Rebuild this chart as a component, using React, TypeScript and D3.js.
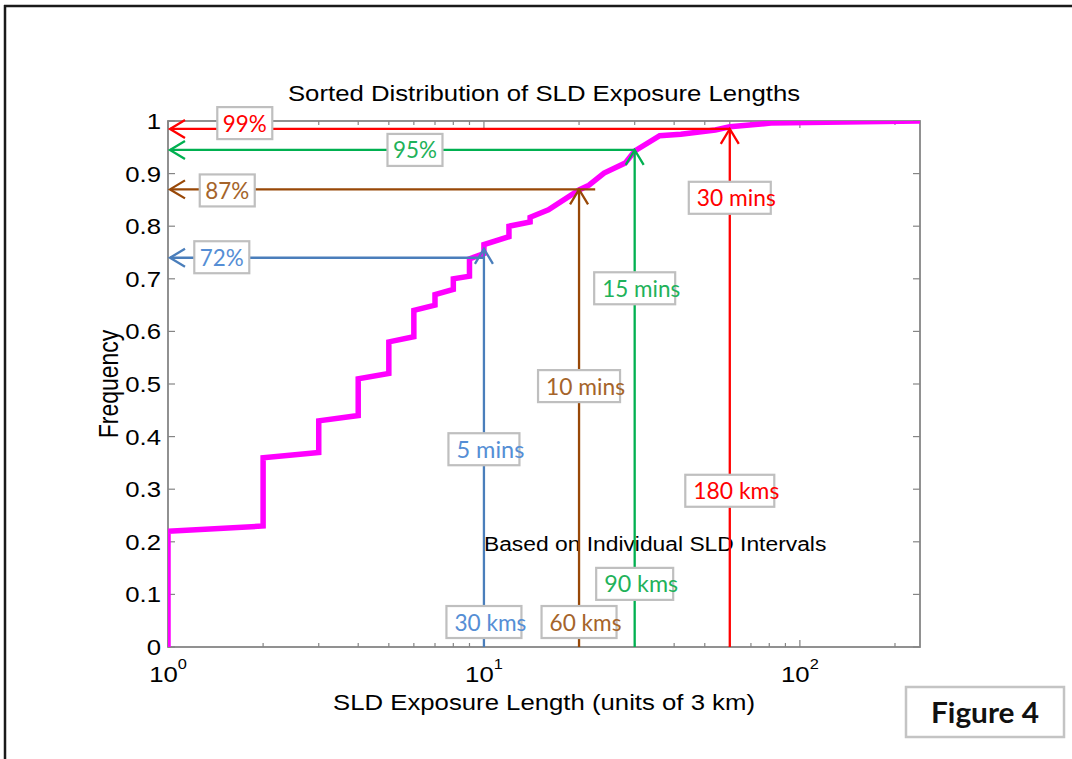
import * as d3 from "d3";

// sorted exposure lengths (units of 3 km) and cumulative frequency
const lengths = [1, 1, 2, 2, 3, 3, 4, 4, 5, 5, 6, 6, 7, 7, 8, 8, 9, 9, 10, 10, 12, 12, 14, 14, 16, 20, 21.5, 24, 28, 30, 36, 42, 54, 60, 81, 240];
const freqs = [0, 0.22, 0.23, 0.36, 0.37, 0.43, 0.44, 0.51, 0.52, 0.58, 0.59, 0.64, 0.65, 0.67, 0.68, 0.7, 0.705, 0.738, 0.748, 0.765, 0.78, 0.8, 0.808, 0.817, 0.831, 0.869, 0.878, 0.901, 0.92, 0.943, 0.972, 0.975, 0.983, 0.989, 0.996, 1.0];

// guide lines drawn on top of the plot
const guideLengths = [10, 20, 30, 60];
const guideLevels = [0.74, 0.87, 0.945, 0.985];
const guideTips = [0.757, 0.87, 0.945, 0.985];
const guideEnds = [10, 22.5, 30, 60];
const pctLabels = ["72%", "87%", "95%", "99%"];
const minsLabels = ["5 mins", "10 mins", "15 mins", "30 mins"];
const kmsLabels = ["30 kms", "60 kms", "90 kms", "180 kms"];

// label anchors in data units
const pctAt = [[1.48, 0.741], [1.54, 0.868], [6.05, 0.945], [1.75, 0.996]];
const minsAt = [0.376, 0.496, 0.682, 0.854];
const kmsAt = [0.0475, 0.0475, 0.12, 0.297];
const minsLen = [68, 79, 78, 79];
const kmsLen = [72, 72, 74, 86];

const lineColors = ["#4a7ebb", "#984807", "#00b050", "#ff0000"];
const textColors = ["#558ed5", "#a5642a", "#1fb25a", "#ff0000"];

const W = 1072;
const H = 759;
const margin = { top: 121, right: W - 920, bottom: H - 647, left: 168 };
const SX = 1.17; // the source picture is stretched sideways
const axisFont = "'Liberation Sans', Arial, sans-serif";
const boxFont = "Lato, 'Open Sans', sans-serif";

export default function App() {
  const x = d3.scaleLog().domain([1, 240]).range([margin.left, W - margin.right]);
  const y = d3.scaleLinear().domain([0, 1]).range([H - margin.bottom, margin.top]);
  const x0 = x.range()[0], x1 = x.range()[1];
  const y0 = y.range()[0], y1 = y.range()[1];

  const pts: [number, number][] = lengths.map((l, i) => [l, freqs[i]]);
  const line = d3.line<[number, number]>().x(d => x(d[0])).y(d => y(d[1]));

  const xTicks = x.ticks();
  const yTicks = y.ticks(10);
  const isMajor = (v: number) => Math.abs(Math.log10(v) - Math.round(Math.log10(v))) < 1e-9;

  const axisColor = "#858585";
  const boxStroke = "#bfbfbf";

  const stretched = (tx: number, ty: number, extra = "") => `translate(${tx},${ty}) scale(${SX},1)${extra}`;

  return (
    <svg width={W} height={H} style={{ position: "absolute", left: 0, top: 0, background: "#fff" }}>
      <defs>
        <clipPath id="plot-clip">
          <rect x={x0} y={y1} width={x1 - x0} height={y0 - y1} />
        </clipPath>
      </defs>

      {/* outer frame */}
      <line x1={5} x2={5} y1={5} y2={H} stroke="#1a1a1a" strokeWidth={2.5} />
      <line x1={4} x2={W} y1={6} y2={6} stroke="#1a1a1a" strokeWidth={2.5} />

      {/* title */}
      <text transform={stretched((x0 + x1) / 2, 101)} textAnchor="middle" fontFamily={axisFont} fontSize={22}>
        Sorted Distribution of SLD Exposure Lengths
      </text>

      {/* axes box */}
      <rect x={x0} y={y1} width={x1 - x0} height={y0 - y1} fill="none" stroke={axisColor} strokeWidth={1.8} />

      {/* x ticks top and bottom */}
      {xTicks.map(v => {
        const len = isMajor(v) ? 7 : 4;
        return (
          <g key={"xt" + v}>
            <line x1={x(v)} x2={x(v)} y1={y0} y2={y0 - len} stroke={axisColor} strokeWidth={1.2} />
            <line x1={x(v)} x2={x(v)} y1={y1} y2={y1 + len} stroke={axisColor} strokeWidth={1.2} />
          </g>
        );
      })}
      {xTicks.filter(isMajor).map(v => (
        <text key={"xl" + v} transform={stretched(x(v), 682)} textAnchor="middle" fontFamily={axisFont} fontSize={22}>
          <tspan>10</tspan>
          <tspan dy={-13} fontSize={14}>{Math.round(Math.log10(v))}</tspan>
        </text>
      ))}

      {/* y ticks left and right */}
      {yTicks.map(v => (
        <g key={"yt" + v}>
          <line x1={x0} x2={x0 + 7} y1={y(v)} y2={y(v)} stroke={axisColor} strokeWidth={1.2} />
          <line x1={x1} x2={x1 - 7} y1={y(v)} y2={y(v)} stroke={axisColor} strokeWidth={1.2} />
          <text transform={stretched(x0 - 7, y(v) + 8)} textAnchor="end" fontFamily={axisFont} fontSize={22}>
            {String(+v.toFixed(1))}
          </text>
        </g>
      ))}

      {/* axis titles */}
      <text transform={stretched((x0 + x1) / 2, 710)} textAnchor="middle" fontFamily={axisFont} fontSize={22}>
        SLD Exposure Length (units of 3 km)
      </text>
      <text transform={stretched(118, (y0 + y1) / 2, " rotate(-90)")} textAnchor="middle" fontFamily={axisFont} fontSize={23}>
        Frequency
      </text>

      {/* distribution curve */}
      <path d={line(pts) ?? ""} fill="none" stroke="#ff00ff" strokeWidth={5.5} strokeLinejoin="miter" clipPath="url(#plot-clip)" />

      <text transform={stretched(x(10), y(0.183))} fontFamily={axisFont} fontSize={19.5}>
        Based on Individual SLD Intervals
      </text>

      {/* guide arrows */}
      {guideLengths.map((g, i) => {
        const c = lineColors[i];
        const hy = y(guideLevels[i]);
        const vx = x(g);
        const ty = y(guideTips[i]);
        const lx = x0 + 2;
        return (
          <g key={"g" + i} fill="none" stroke={c} strokeWidth={2.3}>
            <line x1={lx} x2={x(guideEnds[i])} y1={hy} y2={hy} />
            <polyline points={`${lx + 15},${hy - 9} ${lx},${hy} ${lx + 15},${hy + 9}`} />
            <line x1={vx} x2={vx} y1={y0} y2={ty} />
            <polyline points={`${vx - 9},${ty + 15} ${vx},${ty} ${vx + 9},${ty + 15}`} />
          </g>
        );
      })}

      {/* percentage labels */}
      {pctLabels.map((t, i) => {
        const cx = x(pctAt[i][0]);
        const cy = y(pctAt[i][1]);
        return (
          <g key={"p" + i}>
            <rect x={cx - 27.5} y={cy - 16} width={55} height={32} fill="#fff" stroke={boxStroke} strokeWidth={2.2} />
            <text x={cx} y={cy + 8.5} textAnchor="middle" fontFamily={boxFont} fontSize={23} fill={textColors[i]} textLength={44} lengthAdjust="spacingAndGlyphs">
              {t}
            </text>
          </g>
        );
      })}

      {/* time and distance labels */}
      {guideLengths.map((g, i) =>
        [
          [minsLabels[i], minsAt[i], minsLen[i]],
          [kmsLabels[i], kmsAt[i], kmsLen[i]],
        ].map(([t, lv, len], j) => {
          const cx = x(g);
          const cy = y(lv as number);
          const tl = len as number;
          const bw = tl + 3;
          const bx = cx - bw / 2;
          return (
            <g key={"l" + i + j}>
              <rect x={bx} y={cy - 16} width={bw} height={32} fill="#fff" stroke={boxStroke} strokeWidth={2.2} />
              <text x={bx + 8} y={cy + 8.5} fontFamily={boxFont} fontSize={23} fill={textColors[i]} textLength={tl} lengthAdjust="spacingAndGlyphs">
                {t as string}
              </text>
            </g>
          );
        })
      )}

      {/* figure tag */}
      <rect x={906} y={687} width={158} height={50} fill="#fff" stroke="#c4c4c4" strokeWidth={2.5} />
      <text x={985} y={723} textAnchor="middle" fontFamily={boxFont} fontWeight={700} fontSize={29} fill="#111" textLength={108} lengthAdjust="spacingAndGlyphs">
        Figure 4
      </text>
    </svg>
  );
}
